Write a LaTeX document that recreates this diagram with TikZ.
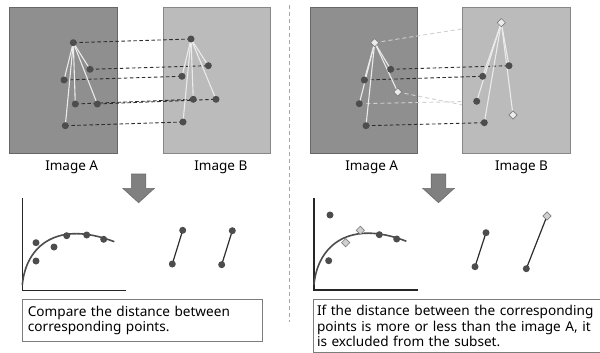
\documentclass[tikz,border=0pt]{standalone}
\usepackage{fontspec}
\setmainfont{Noto Sans}
\usetikzlibrary{arrows.meta,shapes.geometric,backgrounds}
\definecolor{panelA}{RGB}{143,143,143}
\definecolor{panelB}{RGB}{187,187,187}
\definecolor{dotgray}{RGB}{77,77,77}
\definecolor{rimgray}{RGB}{125,125,125}
\definecolor{ink}{RGB}{45,45,45}
\definecolor{pale}{RGB}{208,208,208}
\pgfdeclarelayer{back}
\pgfdeclarelayer{lines}
\pgfsetlayers{back,lines,main}
\tikzset{
  panel/.style={draw=#1!72!black,fill=#1,line width=0.8pt},
  spot/.style={circle,fill=dotgray,inner sep=0pt,minimum size=7pt},
  cand/.style={diamond,draw=rimgray,fill=#1,inner sep=0pt,minimum size=8.5pt,line width=0.6pt},
  cand/.default=white!92!black,
  match/.style={draw=ink,line width=0.9pt,dash pattern=on 3.5pt off 2.5pt},
  miss/.style={draw=pale,line width=0.9pt,dash pattern=on 4pt off 3pt},
  spoke/.style={draw=white!92!black,line width=1.1pt},
  stick/.style={draw=ink,line width=1.2pt},
  axis/.style={draw=black!85,line width=1.5pt},
  curve/.style={draw=dotgray,line width=1.6pt},
  sep/.style={draw=black!35,line width=0.8pt,dash pattern=on 4pt off 3pt},
  caption/.style={font=\fontsize{13.5}{16}\selectfont,anchor=base},
  note/.style={draw=rimgray,fill=white,anchor=north west,align=left,inner ysep=6pt,
    font=\fontsize{13.6}{15.3}\selectfont},
  % block arrow pointing down
  pics/downarrow/.style={code={
    \fill[draw=black!58,fill=black!50,line width=0.6pt] (-7.3,0) -- (7.3,0) -- (7.3,14.3) -- (15.8,14.3)
      -- (0,28.7) -- (-15.8,14.3) -- (-7.3,14.3) -- cycle;
  }},
}
\begin{document}
\begin{tikzpicture}[x=1pt,y=-1pt]
  \useasboundingbox (0,0) rectangle (600,353);

  % left half: all points match
  \node[spot] (a1) at (73.3,42.7) {};
  \node[spot] (a2) at (90,69.3) {};
  \node[spot] (a3) at (64,80) {};
  \node[spot] (a4) at (75.3,104) {};
  \node[spot] (a5) at (97.3,104) {};
  \node[spot] (a6) at (65.3,125.7) {};
  \node[spot] (b1) at (191,39) {};
  \node[spot] (b2) at (208.3,65.7) {};
  \node[spot] (b3) at (182,76.3) {};
  \node[spot] (b4) at (193.3,99.3) {};
  \node[spot] (b5) at (216,99.3) {};
  \node[spot] (b6) at (183,122) {};

  % right half: some points are dropped
  \node[cand] (c1) at (374.7,42.7) {};
  \node[spot] (c2) at (390.7,69.3) {};
  \node[spot] (c3) at (364.3,80) {};
  \node[cand] (c4) at (397.7,92) {};
  \node[spot] (c5) at (359.3,103.7) {};
  \node[spot] (c6) at (366,125.7) {};
  \node[cand] (d1) at (501.3,22.7) {};
  \node[spot] (d2) at (509,65.7) {};
  \node[spot] (d3) at (482.7,76.3) {};
  \node[spot] (d4) at (476.7,101.3) {};
  \node[cand] (d5) at (513,115) {};
  \node[spot] (d6) at (484.3,122.7) {};

  \begin{pgfonlayer}{back}
    \draw[panel=panelA] (9,7) rectangle (117,153);
    \draw[panel=panelB] (163,7) rectangle (270,153);
    \draw[panel=panelA] (310,7) rectangle (417,153);
    \draw[miss] (c1.center) -- (d1.center);
    \draw[miss] (c4.center) -- (d5.center);
    \draw[miss] (c5.center) -- (d4.center);
    \draw[panel=panelB] (462,7) rectangle (570,153);
  \end{pgfonlayer}

  \begin{pgfonlayer}{lines}
    \foreach \i in {1,...,6} \draw[match] (a\i.center) -- (b\i.center);
    \foreach \i in {2,3,6} \draw[match] (c\i.center) -- (d\i.center);
    \foreach \s in {a,b,c,d}
      \foreach \i in {2,...,6} \draw[spoke] (\s1.center) -- (\s\i.center);
  \end{pgfonlayer}

  \node[caption] (capA) at (71.7,170) {Image A};
  \node[caption] (capB) at (220.8,170) {Image B};
  \node[caption] (capC) at (371.7,170) {Image A};
  \node[caption] (capD) at (521.5,170) {Image B};

  \draw[sep] (289.5,5) -- (289.5,322);

  \pic at (138.6,174) {downarrow};
  \pic at (438.5,174) {downarrow};

  % distance plots
  \draw[axis] (22.3,198) -- (22.3,290.7) -- (126,290.7);
  \draw[curve] (22.3,285) .. controls (26,245) and (58,220) .. (114.3,241.7);
  \node[spot] (g1) at (36,242.7) {};
  \node[spot] (g2) at (54,247) {};
  \node[spot] (g3) at (66.7,235.7) {};
  \node[spot] (g4) at (86.7,235) {};
  \node[spot] (g5) at (103.7,239.3) {};
  \node[spot] (g6) at (36,261) {};

  \draw[axis] (314,198) -- (314,290) -- (418.3,290);
  \draw[curve] (314,284.5) .. controls (318,244.5) and (350,219.5) .. (406.3,241.2);
  \node[spot] (h1) at (330,215) {};
  \node[spot] (h2) at (328.7,260.7) {};
  \node[cand=pale] (h3) at (345.7,242.7) {};
  \node[cand=pale] (h4) at (360.3,230.3) {};
  \node[spot] (h5) at (379.3,234.7) {};
  \node[spot] (h6) at (396.7,239) {};

  \node[spot] (e1) at (172.3,264) {};
  \node[spot] (e2) at (182.7,230.3) {};
  \node[spot] (e3) at (221.7,264.7) {};
  \node[spot] (e4) at (232.3,230.7) {};
  \node[spot] (f1) at (475,266.7) {};
  \node[spot] (f2) at (486,232.7) {};
  \node[spot] (f3) at (526.3,268.7) {};
  \node[cand=pale] (f4) at (547,216) {};
  \begin{pgfonlayer}{lines}
    \draw[stick] (e1.center) -- (e2.center);
    \draw[stick] (e3.center) -- (e4.center);
    \draw[stick] (f1.center) -- (f2.center);
    \draw[stick] (f3.center) -- (f4.center);
  \end{pgfonlayer}

  \node[note,minimum width=240pt,minimum height=41.4pt,text width=228pt,inner xsep=6pt]
    (cmp) at (21.7,299.3) {Compare the distance between\\corresponding points.};
  \node[note,text width=300pt,inner xsep=3.5pt]
    (excl) at (313.3,299.3) {If the distance between the corresponding\\points is more or less than the image A, it\\is excluded from the subset.};
\end{tikzpicture}
\end{document}
